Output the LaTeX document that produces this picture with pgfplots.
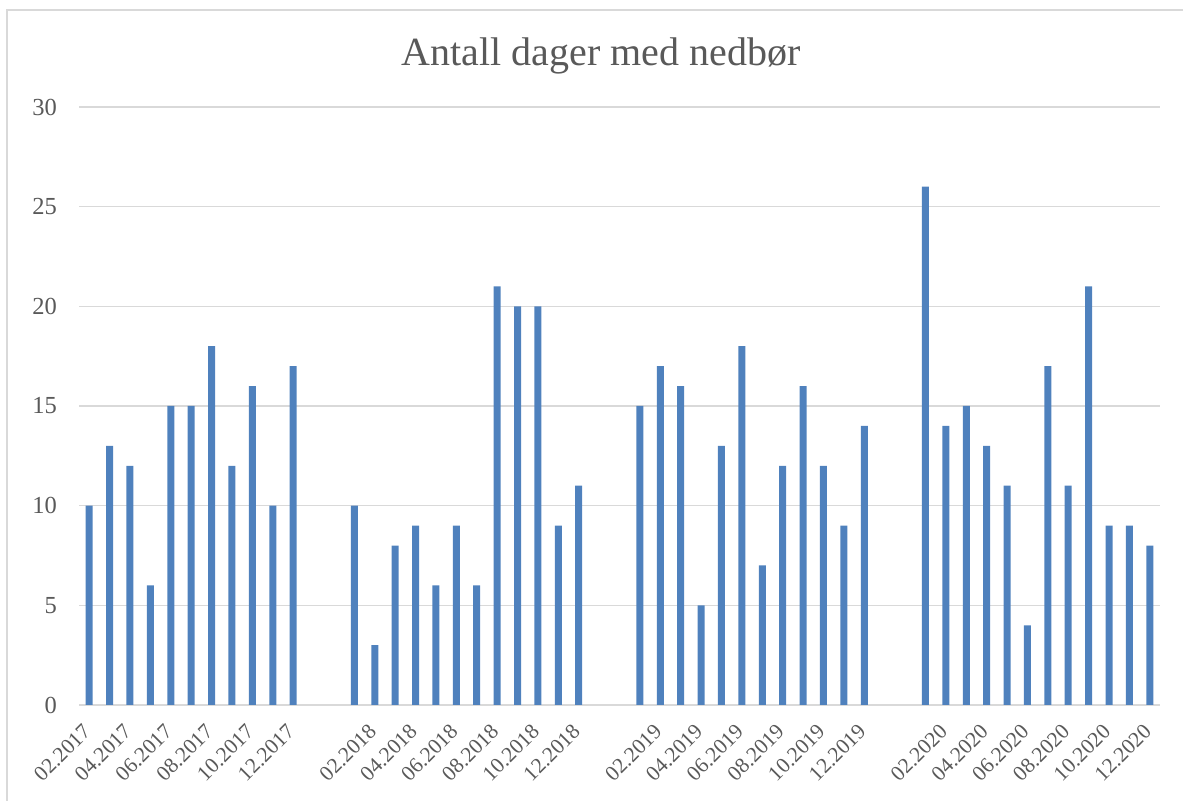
\documentclass[border=0pt]{standalone}
\usepackage{pgfplots}
\pgfplotsset{compat=1.18}
\usepackage{fontspec}
\setmainfont{Liberation Serif}
\definecolor{barblue}{HTML}{4F81BD}
\definecolor{gridgray}{HTML}{D9D9D9}
\definecolor{txtgray}{HTML}{595959}
\begin{document}
\begin{tikzpicture}[x=1bp,y=1bp]
\useasboundingbox (0,0) rectangle (1183,801);
\draw[gridgray, line width=1.5bp] (7,0) -- (7,791) -- (1183,791);
\node[txtgray, font=\fontsize{40bp}{44bp}\selectfont, anchor=base] at (601,735) {Antall dager med nedbør};
\begin{axis}[
  at={(79bp,96bp)}, anchor=south west,
  width=1081bp, height=598bp, scale only axis,
  xmin=-0.5, xmax=52.5, ymin=0, ymax=30,
  axis lines*=left,
  x axis line style={gridgray, line width=1.5bp, -},
  y axis line style={draw=none},
  ytick={0,5,...,30},
  ymajorgrids, major grid style={gridgray, line width=1.5bp},
  major tick length=0pt,
  xtick={0,2,4,6,8,10,14,16,18,20,22,24,28,30,32,34,36,38,42,44,46,48,50,52},
  xticklabels={02.2017,04.2017,06.2017,08.2017,10.2017,12.2017,
               02.2018,04.2018,06.2018,08.2018,10.2018,12.2018,
               02.2019,04.2019,06.2019,08.2019,10.2019,12.2019,
               02.2020,04.2020,06.2020,08.2020,10.2020,12.2020},
  xticklabel style={yshift=-17.5bp, xshift=-7.5bp, rotate=45, anchor=north east, inner sep=0pt, font=\fontsize{21.5bp}{23bp}\selectfont, text=txtgray},
  yticklabel style={font=\fontsize{24.5bp}{26bp}\selectfont, text=txtgray, anchor=east, inner sep=0pt, xshift=-22bp},
  /pgf/number format/assume math mode=true,
  tick style={draw=none},
  ybar, bar width=7bp,
  clip=false,
]
\addplot[fill=barblue, draw=none] coordinates {
(0,10)(1,13)(2,12)(3,6)(4,15)(5,15)(6,18)(7,12)(8,16)(9,10)(10,17)
(13,10)(14,3)(15,8)(16,9)(17,6)(18,9)(19,6)(20,21)(21,20)(22,20)(23,9)(24,11)
(27,15)(28,17)(29,16)(30,5)(31,13)(32,18)(33,7)(34,12)(35,16)(36,12)(37,9)(38,14)
(41,26)(42,14)(43,15)(44,13)(45,11)(46,4)(47,17)(48,11)(49,21)(50,9)(51,9)(52,8)
};
\end{axis}
\end{tikzpicture}
\end{document}
